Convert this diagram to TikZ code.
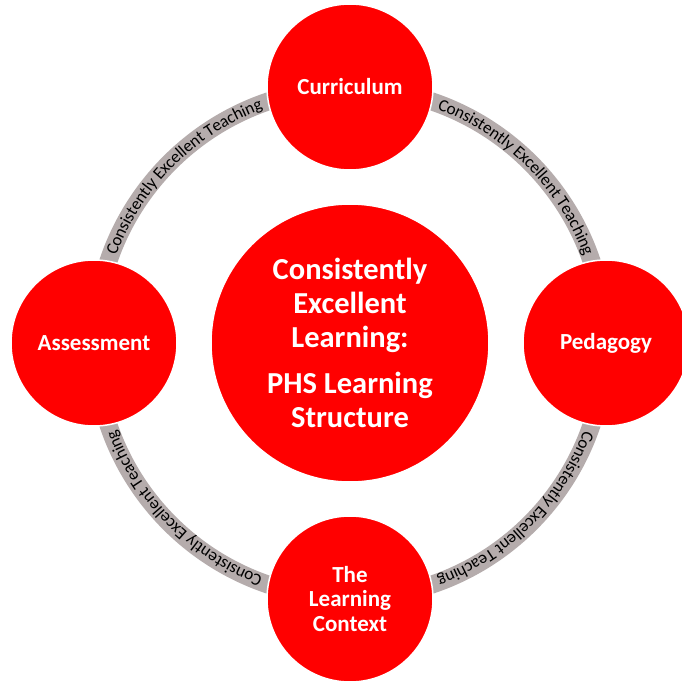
\documentclass[tikz,border=0pt]{standalone}
\usepackage{fontspec}
\setmainfont{Carlito}
\usetikzlibrary{decorations.text}
\definecolor{discred}{RGB}{255,0,0}
\definecolor{bandgray}{RGB}{181,172,172}
\begin{document}
\begin{tikzpicture}[x=1pt,y=1pt,
  hub/.style={circle, fill=discred, draw=white, line width=1.5pt,
    minimum size=278pt, inner sep=0pt, text=white, align=center,
    font=\fontsize{30.5}{34}\selectfont\bfseries},
  spoke/.style={circle, fill=discred, draw=white, line width=1.5pt,
    minimum size=166pt, inner sep=0pt, text=white, align=center,
    font=\fontsize{23}{24.5}\selectfont\bfseries},
  bandtext/.style={decorate, decoration={text along path, text align=center,
    raise=-5.5pt,
    text={|\fontsize{17.2}{19}\selectfont|Consistently Excellent Teaching}}}
]
\useasboundingbox (-350,-340) rectangle (332,343);
\fill[white] (-350,-340) rectangle (332,343);

% grey ring joining the four outer discs
\draw[bandgray, line width=18pt] (0,0) circle[radius=255];

% ring captions, all running clockwise
\path[bandtext] (90:255) arc[start angle=90, end angle=0, radius=255];
\path[bandtext] (0:255) arc[start angle=0, end angle=-90, radius=255];
\path[bandtext] (-90:255) arc[start angle=-90, end angle=-180, radius=255];
\path[bandtext] (180:255) arc[start angle=180, end angle=90, radius=255];

% central disc
\node[hub] (core) at (0,0)
  {Consistently\\Excellent\\Learning:\\[12pt]PHS Learning\\Structure};

% outer discs
\node[spoke] (curr) at (0,256) {Curriculum};
\node[spoke] (ped) at (256,0) {Pedagogy};
\node[spoke] (ctx) at (0,-256) {The\\Learning\\Context};
\node[spoke] (ass) at (-256,0) {Assessment};
\end{tikzpicture}
\end{document}
